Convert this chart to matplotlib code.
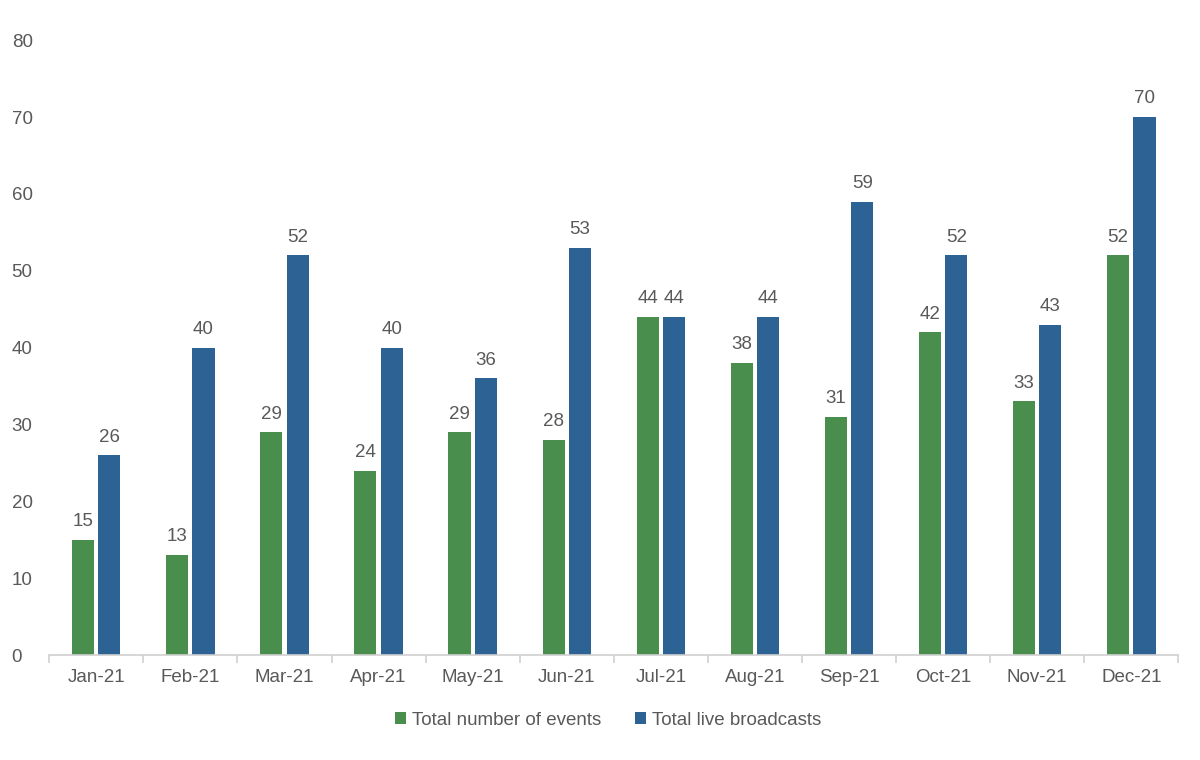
import numpy as np
import matplotlib.pyplot as plt

months = ['Jan-21', 'Feb-21', 'Mar-21', 'Apr-21', 'May-21', 'Jun-21',
          'Jul-21', 'Aug-21', 'Sep-21', 'Oct-21', 'Nov-21', 'Dec-21']
events = [15, 13, 29, 24, 29, 28, 44, 38, 31, 42, 33, 52]
broadcasts = [26, 40, 52, 40, 36, 53, 44, 44, 59, 52, 43, 70]

green = '#4a8e4e'
blue = '#2d6295'
grey = '#595959'

plt.rcParams['font.family'] = ['Liberation Sans', 'DejaVu Sans']

fig = plt.figure(figsize=(12, 7.6), dpi=100)
ax = fig.add_axes([0.041, 0.138, 0.941, 0.809])

x = np.arange(len(months))
w = 0.235
off = 0.14
b1 = ax.bar(x - off, events, w, color=green, label='Total number of events')
b2 = ax.bar(x + off, broadcasts, w, color=blue, label='Total live broadcasts')

for bars in (b1, b2):
    ax.bar_label(bars, padding=7, fontsize=13.5, color=grey)

ax.set_xlim(-0.5, len(months) - 0.5)
ax.set_ylim(0, 80)
ax.set_yticks(range(0, 81, 10))
ax.set_xticks(np.arange(-0.5, len(months), 1), minor=True)
ax.set_xticks(x)
ax.set_xticklabels(months)
ax.tick_params(axis='x', which='major', length=0, pad=10, labelsize=13.5, labelcolor=grey)
ax.tick_params(axis='x', which='minor', length=6, color='#d0d0d0', width=1.2)
ax.tick_params(axis='y', length=0, pad=27, labelsize=13.5, labelcolor=grey)
for lab in ax.get_yticklabels():
    lab.set_horizontalalignment('left')

for s in ('top', 'right', 'left'):
    ax.spines[s].set_visible(False)
ax.spines['bottom'].set_color('#d0d0d0')
ax.spines['bottom'].set_linewidth(1.2)

ax.legend(loc='upper center', bbox_to_anchor=(0.495, -0.065), ncol=2, frameon=False,
          fontsize=13.5, labelcolor=grey, handlelength=0.6, handleheight=0.6,
          handletextpad=0.3, columnspacing=1.8)

fig.savefig('out.png', dpi=100)
